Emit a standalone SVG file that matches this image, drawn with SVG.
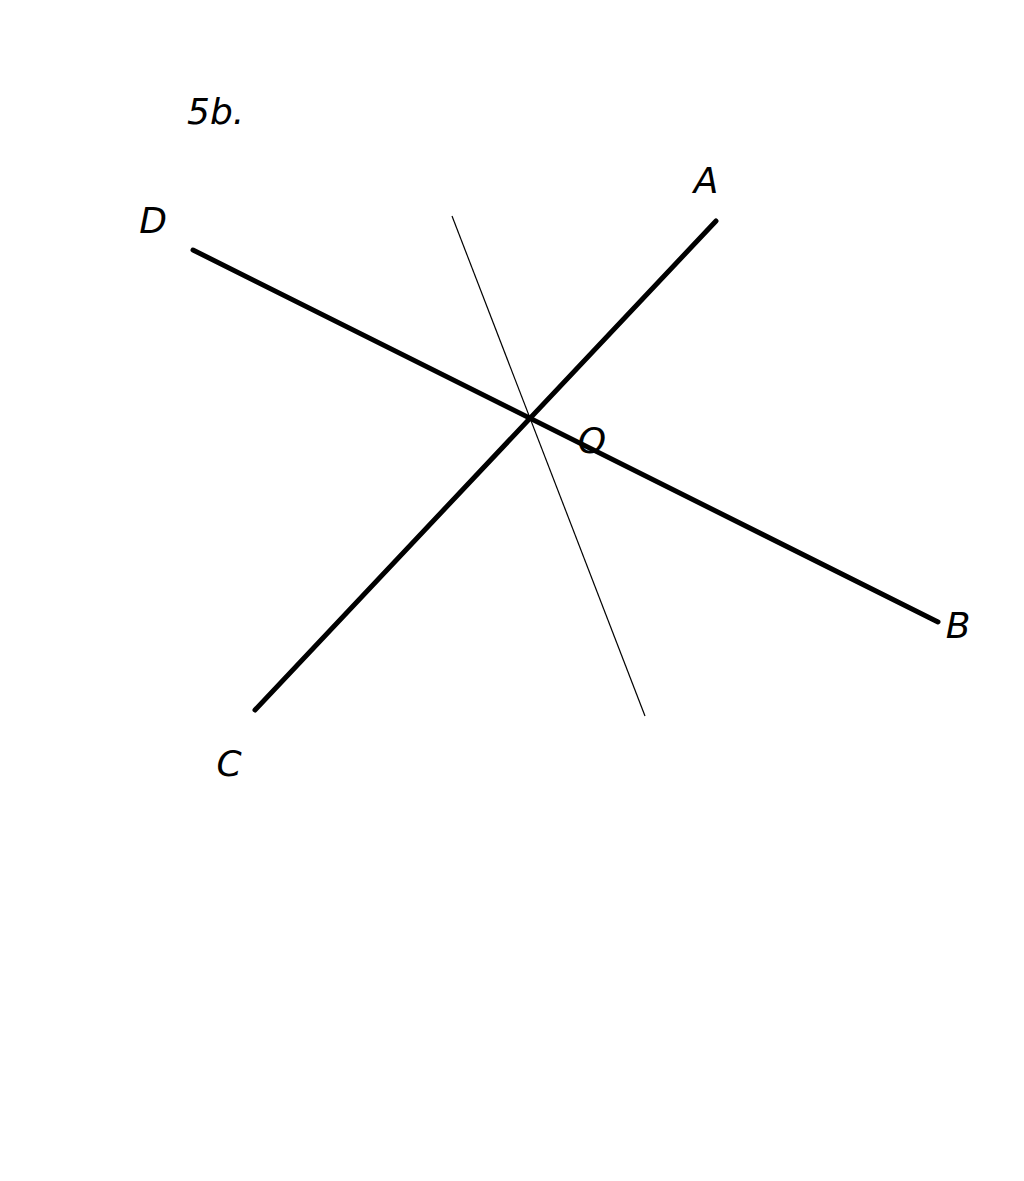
<svg xmlns="http://www.w3.org/2000/svg" width="1024" height="1181" viewBox="0 0 1024 1181">
<style>
.lbl{font-family:"DejaVu Sans","Liberation Sans",sans-serif;font-style:italic;font-size:36px;fill:#000}
.thick{stroke:#000;stroke-width:5;stroke-linecap:round;fill:none}
.thin{stroke:#000;stroke-width:1.2;fill:none}
</style>
<rect width="1024" height="1181" fill="#fff"/>
<g id="connectors">
<line class="thick" x1="193" y1="250" x2="938" y2="622"/>
<line class="thick" x1="716" y1="221" x2="255" y2="710"/>
<line class="thin" x1="452" y1="216" x2="645" y2="716"/>
</g>
<g id="title"><text class="lbl" x="187" y="124">5b.</text></g>
<g id="D"><text class="lbl" x="153" y="233" text-anchor="middle">D</text></g>
<g id="A"><text class="lbl" x="706" y="193" text-anchor="middle">A</text></g>
<g id="O"><text class="lbl" x="592" y="453" text-anchor="middle">O</text></g>
<g id="B"><text class="lbl" x="958" y="638" text-anchor="middle">B</text></g>
<g id="C"><text class="lbl" x="229" y="776" text-anchor="middle">C</text></g>
</svg>
